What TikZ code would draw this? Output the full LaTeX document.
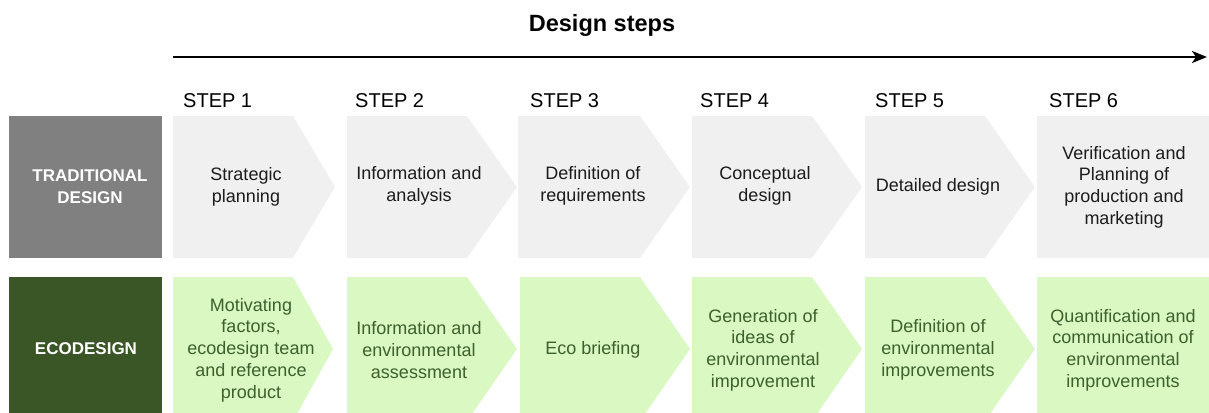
\documentclass[tikz,border=0pt]{standalone}
\usepackage{fontspec}
\setmainfont{Liberation Sans}
\usetikzlibrary{arrows.meta}
\definecolor{tradbox}{HTML}{808080}
\definecolor{ecobox}{HTML}{3A5626}
\definecolor{greyfill}{HTML}{F0F0F0}
\definecolor{greenfill}{HTML}{D9F8C2}
\definecolor{greentext}{HTML}{3D602C}
\definecolor{greytext}{HTML}{1C1C1C}
\tikzset{
  bodytext/.style={align=center, inner sep=0pt, font=\fontsize{18}{21.7}\selectfont},
  greytxt/.style={bodytext, text=greytext},
  greentxt/.style={bodytext, text=greentext},
  steplabel/.style={anchor=west, inner sep=0pt, text=black, font=\fontsize{20}{22}\selectfont},
  rowlabel/.style={align=center, inner sep=0pt, text=white, font=\bfseries\fontsize{17}{22}\selectfont},
}
% chevron: left, slant start, tip, top, bottom
\newcommand{\mychev}[6]{%
  \fill[#6] (#1,#4) -- (#2,#4) -- (#3,{(#4+#5)/2}) -- (#2,#5) -- (#1,#5) -- cycle;}
\begin{document}
\begin{tikzpicture}[x=1pt,y=-1pt]
\useasboundingbox (0,0) rectangle (1209,412);
% title and arrow
\node[inner sep=0pt, font=\bfseries\fontsize{23.5}{26}\selectfont] (title) at (602,25) {Design steps};
\coordinate (arrS) at (173,57);
\coordinate (arrE) at (1207,57);
\draw[line width=2.4pt, -{Stealth[length=15pt,width=12pt,inset=4pt]}] (arrS) -- (arrE);
% step labels
\foreach \x/\n in {183/1,355/2,530/3,700/4,875/5,1049/6}
  \node[steplabel] (step\n) at (\x,101) {STEP \n};
% row labels
\fill[tradbox] (9,116) rectangle (162,258);
\node[rowlabel] (trad) at (90,187) {TRADITIONAL\\DESIGN};
\fill[ecobox] (9,277) rectangle (162,421);
\node[rowlabel] (eco) at (86,349) {ECODESIGN};
% grey row
\mychev{173}{293}{335}{116}{258}{greyfill}
\mychev{347}{467}{517}{116}{258}{greyfill}
\mychev{518}{640}{690}{116}{258}{greyfill}
\mychev{692}{812}{862}{116}{258}{greyfill}
\mychev{865}{985}{1035}{116}{258}{greyfill}
\fill[greyfill] (1037,116) rectangle (1209,258);
% green row
\mychev{173}{293}{333}{277}{421}{greenfill}
\mychev{347}{467}{517}{277}{421}{greenfill}
\mychev{520}{640}{690}{277}{421}{greenfill}
\mychev{692}{812}{862}{277}{421}{greenfill}
\mychev{865}{985}{1035}{277}{421}{greenfill}
\fill[greenfill] (1037,277) rectangle (1209,421);
% grey texts
\node[greytxt] (g1) at (246,187) {Strategic\\planning};
\node[greytxt] (g2) at (419,186) {Information and\\analysis};
\node[greytxt] (g3) at (593,186) {Definition of\\requirements};
\node[greytxt] (g4) at (765,186) {Conceptual\\design};
\node[greytxt] (g5) at (938,187) {Detailed design};
\node[greytxt] (g6) at (1124,187) {Verification and\\Planning of\\production and\\marketing};
% green texts
\node[greentxt] (e1) at (251,350) {Motivating\\factors,\\ecodesign team\\and reference\\product};
\node[greentxt] (e2) at (419,350) {Information and\\environmental\\assessment};
\node[greentxt] (e3) at (593,350) {Eco briefing};
\node[greentxt] (e4) at (763,350) {Generation of\\ideas of\\environmental\\improvement};
\node[greentxt] (e5) at (938,350) {Definition of\\environmental\\improvements};
\node[greentxt] (e6) at (1123,350) {Quantification and\\communication of\\environmental\\improvements};
\end{tikzpicture}
\end{document}
